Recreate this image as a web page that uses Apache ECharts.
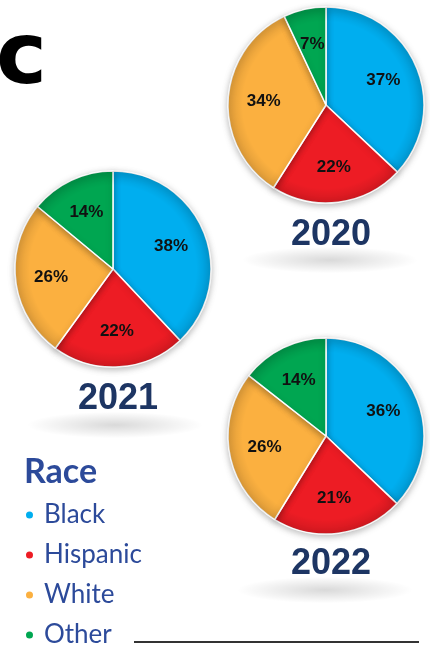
<!DOCTYPE html>
<html>
<head>
<meta charset="utf-8">
<script src="https://cdn.jsdelivr.net/npm/echarts@6/dist/echarts.min.js"></script>
<style>
  html, body { margin: 0; padding: 0; background: #fff; }
  #main { width: 430px; height: 647px; }
</style>
</head>
<body>
<div id="main"></div>
<script>
// 数据
var raceNames = ["Black", "Hispanic", "White", "Other"];
var raceColors = ["#00aeef", "#ed1c24", "#fbb040", "#00a651"];
var years = ["2020", "2021", "2022"];
var data2020 = [37, 22, 34, 7];
var data2021 = [38, 22, 26, 14];
var data2022 = [36, 21, 26, 14];

(function () {
  var myChart = echarts.init(document.getElementById("main"));

  var navy = "#1d3563";
  var legendBlue = "#2c4a9a";
  var pieR = 98;

  // 每个饼图的位置
  var pies = [
    { year: years[0], values: data2020, center: [326, 105], titleTop: 212, shadow: [330, 260] },
    { year: years[1], values: data2021, center: [113, 269], titleTop: 376, shadow: [115, 425] },
    { year: years[2], values: data2022, center: [326, 436], titleTop: 541, shadow: [325, 590] },
  ];

  function makeData(values) {
    return values.map(function (v, i) {
      return { name: raceNames[i], value: v };
    });
  }

  var series = pies.map(function (p, si) {
    return {
      type: "pie",
      name: p.year,
      center: p.center,
      radius: [0, pieR],
      startAngle: 90,
      clockwise: true,
      silent: true,
      data: makeData(p.values),
      itemStyle: {
        borderColor: "#fff",
        borderWidth: 1.5,
        shadowBlur: 6,
        shadowColor: "rgba(0,0,0,0.25)",
        shadowOffsetY: 2,
      },
      label: {
        show: true,
        position: "inner",
        formatter: "{c}%",
        color: "#111",
        fontSize: 17,
        fontWeight: "bold",
        fontFamily: "'Liberation Sans Narrow', 'Arial Narrow', 'Liberation Sans', sans-serif",
      },
      // 标签往外推一点
      labelLayout: function (params) {
        var r = params.labelRect;
        var cx = r.x + r.width / 2;
        var cy = r.y + r.height / 2;
        var dx = cx - p.center[0];
        var dy = cy - p.center[1];
        return {
          x: p.center[0] + dx * 1.2,
          y: p.center[1] + dy * 1.2,
        };
      },
      labelLine: { show: false },
    };
  });

  var titles = pies.map(function (p) {
    return {
      text: p.year,
      left: p.center[0],
      top: p.titleTop,
      textAlign: "center",
      textStyle: {
        color: navy,
        fontSize: 36,
        fontWeight: "bold",
        fontFamily: "'Liberation Sans', Arial, sans-serif",
      },
    };
  });
  titles.push({
    text: "Race",
    left: 19,
    top: 450,
    textStyle: {
      color: legendBlue,
      fontSize: 34,
      fontWeight: "bold",
      fontFamily: "Lato, 'Open Sans', sans-serif",
    },
  });

  // 阴影椭圆
  var shadows = pies.map(function (p) {
    return {
      type: "circle",
      x: p.shadow[0],
      y: p.shadow[1],
      scaleY: 0.15,
      shape: { cx: 0, cy: 0, r: 88 },
      style: {
        fill: {
          type: "radial",
          x: 0.5, y: 0.5, r: 0.5,
          colorStops: [
            { offset: 0, color: "rgba(0,0,0,0.15)" },
            { offset: 1, color: "rgba(0,0,0,0)" },
          ],
        },
      },
      z: -1,
      silent: true,
    };
  });

  // 饼图边缘的暗影
  var rims = pies.map(function (p) {
    return {
      type: "circle",
      shape: { cx: p.center[0], cy: p.center[1], r: pieR },
      style: {
        fill: {
          type: "radial",
          x: 0.5, y: 0.5, r: 0.5,
          colorStops: [
            { offset: 0, color: "rgba(0,0,0,0)" },
            { offset: 0.85, color: "rgba(0,0,0,0)" },
            { offset: 1, color: "rgba(0,0,0,0.12)" },
          ],
        },
      },
      z: 100,
      silent: true,
    };
  });

  var option = {
    backgroundColor: "#fff",
    color: raceColors,
    animation: false,
    title: titles,
    legend: {
      orient: "vertical",
      left: 24,
      top: 502,
      height: 150,
      padding: 0,
      icon: "circle",
      itemWidth: 9,
      itemHeight: 9,
      itemGap: 14,
      selectedMode: false,
      data: raceNames,
      textStyle: {
        color: legendBlue,
        fontSize: 26,
        lineHeight: 26,
        fontFamily: "Lato, 'Open Sans', sans-serif",
        padding: [0, 0, 0, 5],
      },
    },
    graphic: shadows.concat(rims, [
      {
        type: "text",
        left: -4,
        top: 18,
        style: {
          text: "c",
          fill: "#000",
          font: "bold 86px 'DejaVu Sans', sans-serif",
        },
      },
      {
        type: "line",
        shape: { x1: 134, y1: 642, x2: 419, y2: 642 },
        style: { stroke: "#333", lineWidth: 2 },
      },
    ]),
    series: series,
  };

  myChart.setOption(option);
  window.addEventListener("resize", function () {
    myChart.resize();
  });
})();
</script>
</body>
</html>
